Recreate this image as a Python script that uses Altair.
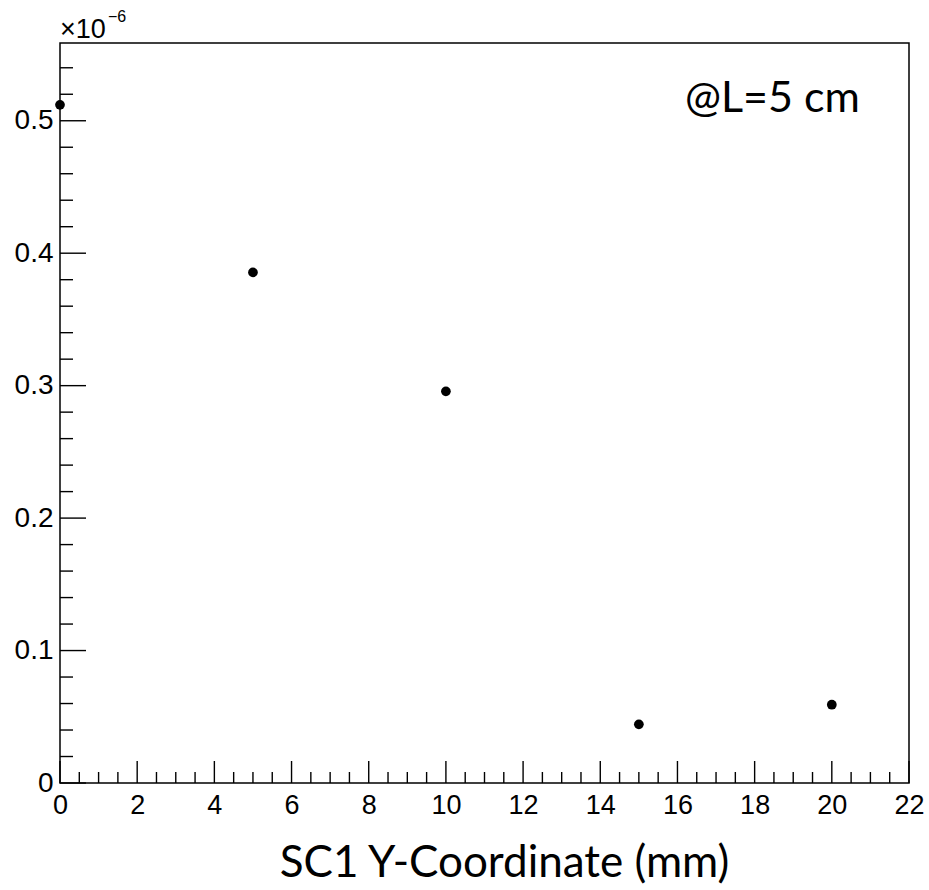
import altair as alt
import pandas as pd

# Measured signal vs. SC1 Y-coordinate (values in units of 1e-6)
y_coord_mm = [0, 5, 10, 15, 20]
signal_e6 = [0.512, 0.3855, 0.2957, 0.0443, 0.0591]

# Axis ticks
x_major = [0, 2, 4, 6, 8, 10, 12, 14, 16, 18, 20, 22]
x_minor = [v / 2 for v in range(1, 44) if v % 4 != 0]
y_major = [0, 0.1, 0.2, 0.3, 0.4, 0.5]
y_minor = [round(v * 0.02, 2) for v in range(1, 28) if v % 5 != 0]

W, H = 849, 740
X_DOM = [0, 22]
Y_DOM = [0, 0.5587]

xs = alt.Scale(domain=X_DOM, nice=False, zero=False)
ys = alt.Scale(domain=Y_DOM, nice=False, zero=False)

pts = pd.DataFrame({"x": y_coord_mm, "y": signal_e6})

base_x_axis = alt.Axis(
    values=x_major, format="d", ticks=False, domain=False, grid=False,
    labelFont="Liberation Sans", labelFontSize=27, labelColor="black",
    labelPadding=9, title="SC1 Y-Coordinate (mm)", titleFont="Lato",
    titleFontSize=44, titleFontWeight="normal", titleColor="black",
    titleAnchor="start", titleAlign="center", titleBaseline="alphabetic",
    titleX=444, titleY=93, labelFlush=False,
)
base_y_axis = alt.Axis(
    values=y_major, labelExpr="datum.value == 0 ? '0' : format(datum.value, '.1f')",
    ticks=False, domain=False, grid=False,
    labelFont="Liberation Sans", labelFontSize=28, labelColor="black",
    labelPadding=7, title=None, labelFlush=False,
)

points = alt.Chart(pts).mark_circle(size=95, color="black", opacity=1).encode(
    x=alt.X("x:Q", scale=xs, axis=base_x_axis),
    y=alt.Y("y:Q", scale=ys, axis=base_y_axis),
)

def xticks(vals, length):
    return alt.Chart(pd.DataFrame({"v": vals})).mark_rule(
        color="black", strokeWidth=1.4
    ).encode(
        x=alt.X("v:Q", scale=xs),
        y=alt.value(H),
        y2=alt.value(H - length),
    )

def yticks(vals, length):
    return alt.Chart(pd.DataFrame({"v": vals})).mark_rule(
        color="black", strokeWidth=1.4
    ).encode(
        y=alt.Y("v:Q", scale=ys),
        x=alt.value(0),
        x2=alt.value(length),
    )

annot = alt.Chart(pd.DataFrame({"t": ["@L=5 cm"]})).mark_text(
    font="Lato", fontSize=43, align="left", baseline="alphabetic", color="black"
).encode(x=alt.value(625), y=alt.value(69), text="t:N")

mult = alt.Chart(pd.DataFrame({"t": ["\u00d710"]})).mark_text(
    font="Liberation Sans", fontSize=27, align="left", baseline="alphabetic", color="black"
).encode(x=alt.value(0), y=alt.value(-5), text="t:N")

expo = alt.Chart(pd.DataFrame({"t": ["\u22126"]})).mark_text(
    font="Liberation Sans", fontSize=16, align="left", baseline="alphabetic", color="black"
).encode(x=alt.value(48), y=alt.value(-21), text="t:N")

chart = alt.layer(
    xticks(x_major, 22), xticks(x_minor, 11),
    yticks(y_major, 26), yticks(y_minor, 13),
    points, annot, mult, expo,
).properties(
    width=W, height=H,
    autosize=alt.AutoSizeParams(type="none"),
    padding={"left": 60, "top": 43, "right": 20, "bottom": 107},
    background="white",
).configure_view(
    stroke="black", strokeWidth=1.5
)

chart.save("out.html", embed_options={"renderer": "svg", "actions": False})
